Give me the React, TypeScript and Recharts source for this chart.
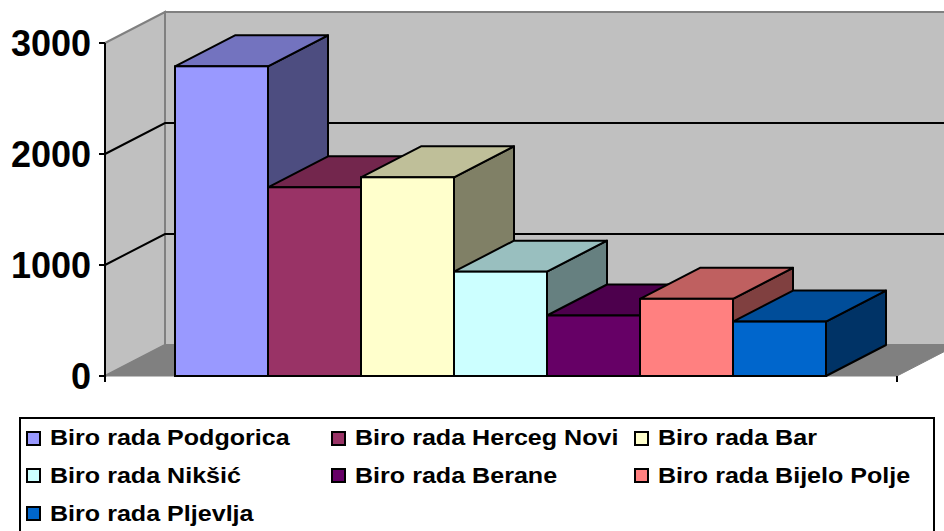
import React from "react"
import { BarChart, Bar, XAxis, YAxis, Legend, ReferenceArea, ReferenceLine } from "recharts"

const offices = [
  "Biro rada Podgorica",
  "Biro rada Herceg Novi",
  "Biro rada Bar",
  "Biro rada Nikšić",
  "Biro rada Berane",
  "Biro rada Bijelo Polje",
  "Biro rada Pljevlja",
]
const counts = [2790, 1700, 1790, 940, 545, 695, 490]
const frontColors = ["#9999FF", "#993366", "#FFFFCC", "#CCFFFF", "#660066", "#FF8080", "#0066CC"]
const topColors = ["#7373BF", "#73264D", "#BFBF99", "#99BFBF", "#4D004D", "#BF6060", "#004D99"]
const sideColors = ["#4D4D80", "#4D1A33", "#808066", "#668080", "#330033", "#804040", "#003366"]
const yTicks = [0, 1000, 2000, 3000]
const gridValues = [1000, 2000]

const chartData = [
  offices.reduce<Record<string, number | string>>((row, _, i) => {
    row[`s${i}`] = counts[i]
    return row
  }, { name: "" }),
]

// depth of the fake 3d box
const DX = 60
const DY = -31
const FONT = "'Liberation Sans', Arial, sans-serif"

const makeBarShape = (i: number) => (props: any) => {
  const { x, y, width, height } = props
  const r = x + width
  const b = y + height
  return (
    <g>
      <polygon
        points={`${r},${y} ${r + DX},${y + DY} ${r + DX},${b + DY} ${r},${b}`}
        fill={sideColors[i]}
        stroke="#000"
        strokeWidth={2}
        strokeLinejoin="round"
      />
      <polygon
        points={`${x},${y} ${x + DX},${y + DY} ${r + DX},${y + DY} ${r},${y}`}
        fill={topColors[i]}
        stroke="#000"
        strokeWidth={2}
        strokeLinejoin="round"
      />
      <rect x={x} y={y} width={width} height={height} fill={frontColors[i]} stroke="#000" strokeWidth={2} />
    </g>
  )
}

const Walls = (props: any) => {
  const { x, y, width, height } = props
  const l = x
  const r = x + width
  const t = y
  const b = y + height
  return (
    <g>
      <rect x={l + DX} y={t + DY} width={width} height={height} fill="#C0C0C0" stroke="#808080" strokeWidth={2} />
      <polygon
        points={`${l},${t} ${l + DX},${t + DY} ${l + DX},${b + DY} ${l},${b}`}
        fill="#C0C0C0"
        stroke="#808080"
        strokeWidth={2}
      />
      <polygon
        points={`${l},${b} ${l + DX},${b + DY} ${r + DX},${b + DY} ${r},${b}`}
        fill="#808080"
        stroke="#808080"
        strokeWidth={1}
      />
      <line x1={l} y1={b} x2={l} y2={b + 6} stroke="#000" strokeWidth={2} />
      <line x1={r} y1={b} x2={r} y2={b + 6} stroke="#000" strokeWidth={2} />
    </g>
  )
}

const GridLine3D = (props: any) => {
  const { x1, y1, x2, y2 } = props
  return (
    <path
      d={`M${x1},${y1} L${x1 + DX},${y1 + DY} L${x2 + DX},${y2 + DY}`}
      fill="none"
      stroke="#000"
      strokeWidth={2}
    />
  )
}

const legendCols = [26, 331, 634]
const legendRow0 = 438
const legendRowStep = 37.8
const legendLeft = 19
const legendTop = 416.5

const LegendBox = (props: any) => {
  const payload = [...(props.payload || [])].sort(
    (a: any, b: any) => offices.indexOf(a.value) - offices.indexOf(b.value)
  )
  return (
    <div
      style={{
        position: "relative",
        width: 916,
        height: 531 - legendTop,
        border: "2px solid #000",
        borderBottom: "none",
        boxSizing: "border-box",
        background: "#fff",
      }}
    >
      {payload.map((entry: any, i: number) => {
        const col = i % 3
        const row = Math.floor(i / 3)
        const cy = legendRow0 + row * legendRowStep - legendTop - 2
        const left = legendCols[col] - legendLeft - 2
        return (
          <div key={i}>
            <div
              style={{
                position: "absolute",
                left,
                top: cy - 7.5,
                width: 15,
                height: 15,
                boxSizing: "border-box",
                border: "2px solid #000",
                background: entry.color,
              }}
            />
            <span
              style={{
                position: "absolute",
                left: left + 24,
                top: cy - 13,
                height: 26,
                lineHeight: "26px",
                fontFamily: FONT,
                fontWeight: 700,
                fontSize: 22,
                color: "#000",
                whiteSpace: "nowrap",
                transform: "scaleX(1.14)",
                transformOrigin: "left center",
              }}
            >
              {entry.value}
            </span>
          </div>
        )
      })}
    </div>
  )
}

export default function App() {
  return (
    <div style={{ position: "absolute", left: 0, top: 0, width: 944, height: 531, overflow: "hidden", background: "#fff" }}>
      <BarChart
        width={944}
        height={531}
        data={chartData}
        margin={{ top: 43, right: 47, bottom: 155, left: 0 }}
        barCategoryGap={70}
        barGap={0}
      >
        <ReferenceArea y1={0} y2={3000} shape={Walls} ifOverflow="visible" zIndex={-300} />
        {gridValues.map((v) => (
          <ReferenceLine key={v} y={v} shape={GridLine3D} zIndex={-200} />
        ))}
        <XAxis
          dataKey="name"
          tick={false}
          tickLine={false}
          height={0}
          axisLine={{ stroke: "#000", strokeWidth: 3 }}
        />
        <YAxis
          domain={[0, 3000]}
          ticks={yTicks}
          width={105}
          tickSize={6}
          tickMargin={8}
          axisLine={{ stroke: "#000", strokeWidth: 2 }}
          tickLine={{ stroke: "#000", strokeWidth: 2 }}
          tick={{ fill: "#000", fontSize: 36, fontWeight: 700, fontFamily: FONT }}
        />
        <Legend
          layout="vertical"
          verticalAlign="middle"
          align="center"
          itemSorter={null}
          content={LegendBox}
          wrapperStyle={{ left: legendLeft, top: legendTop, width: 916, height: 531 - legendTop }}
        />
        {offices.map((name, i) => (
          <Bar
            key={name}
            dataKey={`s${i}`}
            name={name}
            fill={frontColors[i]}
            shape={makeBarShape(i)}
            isAnimationActive={false}
          />
        ))}
      </BarChart>
    </div>
  )
}
